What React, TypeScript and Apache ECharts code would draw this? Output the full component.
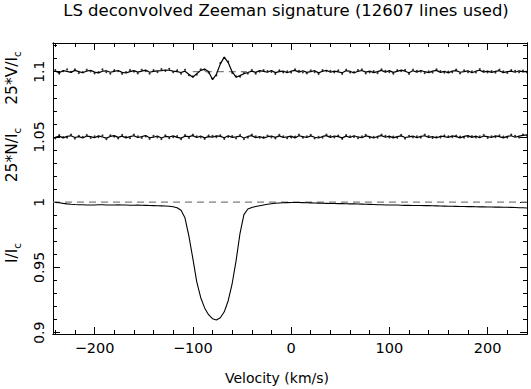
import { useEffect, useRef } from "react";
import * as echarts from "echarts";

// Velocity grid (km/s)
const velocityStart = -240;
const velocityStep = 4;

// Stokes I profile, deviation from continuum (units of 1e-4)
const intensityDev = [
  -1, -4, -9, -13, -16, -18, -19, -20, -21, -21,
  -21, -20, -20, -21, -22, -21, -20, -21, -22, -23,
  -23, -22, -23, -24, -25, -26, -27, -28, -29, -31,
  -35, -43, -62, -120, -260, -430, -610, -730, -810, -862,
  -893, -903, -885, -840, -755, -625, -450, -240, -95, -52,
  -40, -33, -27, -21, -16, -12, -8, -6, -4, -3,
  -2, -2, -2, -3, -4, -5, -6, -7, -8, -9,
  -10, -10, -11, -11, -12, -13, -13, -14, -15, -16,
  -17, -18, -19, -20, -21, -21, -22, -22, -23, -24,
  -24, -25, -25, -25, -26, -26, -27, -28, -29, -30,
  -31, -31, -32, -33, -33, -34, -34, -35, -36, -36,
  -37, -37, -38, -38, -39, -39, -40, -41, -42, -43,
  -44,
];

// Null profile 25*N/Ic, deviation from 1.05 (units of 1e-4)
const nullDev = [
  -3, 6, -7, 4, 9, -4, 2, -8, 7, 3,
  -6, 8, 0, -9, 4, 10, -3, 6, -7, 2,
  9, -4, 3, 11, -6, -2, 7, -8, 4, 0,
  8, -3, -9, 6, 2, 10, -4, 7, -7, 3,
  -2, 8, 4, -6, 9, -3, 0, 7, -8, 4,
  10, -6, 3, -9, 2, 7, -3, 8, -4, 0,
  6, -7, 9, 3, -4, 8, -2, -8, 4, 10,
  -3, 7, 2, -7, 6, -4, 9, 0, -6, 8,
  3, -8, 4, 10, -2, 6, -7, 3, 8, -4,
  0, 7, -6, 4, 9, -3, 2, -8, 6, 3,
  -4, 8, 2, -7, 4, 10, -3, 6, -6, 7,
  2, -4, 8, 3, -7, 4, 9, -2, 6, 12,
  16,
];
const nullDotsDev = [
  -11, 14, -1, -5, 17, -12, 9, 0, 15, -8,
  4, -1, 11, -17, 12, 3, -11, 15, 1, -9,
  17, 5, -8, 4, -14, 9, -3, -16, 12, -9,
  -1, 6, -17, 14, -8, 18, 5, -3, -15, 11,
  8, -1, 12, -14, 1, 6, -10, 15, -16, -5,
  18, 4, -6, -1, 10, -3, -11, 16, 5, -9,
  -4, 3, 17, -6, 5, 16, -10, 1, -5, 18,
  6, -3, 10, -15, 14, 5, 0, -9, 4, 16,
  -6, 1, -5, 18, 8, -4, 3, -6, 16, -12,
  9, -3, 4, -5, 17, 6, -8, 1, -4, 11,
  5, -1, 10, 3, -5, 1, 6, -4, 4, 15,
  -8, 5, -1, 11, 3, -5, 17, 8, -4, 18,
  10,
];

// Stokes V profile 25*V/Ic, deviation from 1.1 (units of 1e-4)
const stokesVDev = [
  4, -7, 8, 3, -5, 10, 1, -8, 5, 11,
  -3, -9, 4, 7, -4, 3, 9, -5, -10, 1,
  8, -3, 5, 12, -4, 3, 6, 9, 13, 11,
  5, 0, -6, 4, -20, -42, -15, 10, 20, 2,
  -60, -20, 60, 112, 70, 0, -42, -30, -15, -6,
  4, -5, 8, 3, -4, 9, -7, 1, 5, -8,
  4, 10, -3, 7, -5, 0, 8, -9, 3, 11,
  -4, 5, -1, -8, 7, 4, -10, 3, 9, -3,
  5, -7, 1, 10, -4, 8, -5, 3, 12, 4,
  -8, 7, -3, 9, 0, -7, 4, 10, -5, 3,
  -9, 5, 8, -4, 1, 7, -8, 4, 11, -3,
  5, -5, 3, 8, -7, 1, 4, -4, 7, -1,
  3,
];
const stokesVDotsDev = [
  12, -15, 5, 18, -2, 17, -10, -4, 15, 3,
  -12, -4, 17, -3, -15, 11, 5, -16, -3, 13,
  1, -13, 15, 5, -15, 12, -3, 19, 7, 21,
  -4, 11, -15, 15, -27, -36, -23, 17, 15, -7,
  -54, -28, 66, 106, 78, -9, -36, -38, -9, -14,
  13, -15, 1, 12, 5, -1, -16, 10, -5, 3,
  -6, 18, 7, -5, -13, 10, -3, -17, 12, 4,
  6, -5, 10, -17, 15, -6, -3, 12, 18, -12,
  -5, 4, -10, 17, 6, -3, -15, 11, 5, 13,
  -16, 15, 6, 1, -10, 3, -6, 18, 5, -7,
  1, -4, 16, -13, 10, -4, 3, -6, 19, 7,
  -5, 4, -7, 16, 3, -9, 12, 6, -4, 9,
  -6,
];

const intensityLevel = 1.0;
const nullLevel = 1.05;
const stokesVLevel = 1.1;
const devUnit = 1e-4;

// Reference (dashed) lines
const vRefRange = [-100, -45];

// Axes
const xMin = -242.3;
const xMax = 240.1;
const yMin = 0.899;
const yMax = 1.122;
const xTickMajor = [-200, -100, 0, 100, 200];
const xTickMinor = [-240, -220, -180, -160, -140, -120, -80, -60, -40, -20, 20, 40, 60, 80, 120, 140, 160, 180, 220, 240];
const yTickMajor = [0.9, 0.95, 1, 1.05, 1.1];
const yTickMinor = [0.91, 0.92, 0.93, 0.94, 0.96, 0.97, 0.98, 0.99, 1.01, 1.02, 1.03, 1.04, 1.06, 1.07, 1.08, 1.09, 1.11, 1.12];

const FONT = "DejaVu Sans";

function toPairs(devs: number[], level: number) {
  return devs.map((d, i) => [velocityStart + i * velocityStep, level + d * devUnit]);
}

function xAxisDef(position: string, ticks: number[], len: number, labels: boolean) {
  return {
    type: "value",
    position,
    min: xMin,
    max: xMax,
    axisLine: { show: true, onZero: false, lineStyle: { color: "#000", width: 1 } },
    splitLine: { show: false },
    axisTick: { show: true, inside: true, length: len, customValues: ticks, lineStyle: { color: "#000", width: 1 } },
    axisLabel: labels
      ? {
          show: true,
          customValues: xTickMajor,
          color: "#000",
          fontFamily: FONT,
          fontSize: 14.5,
          margin: 6,
          formatter: (v: number) => (v < 0 ? "\u2212" + Math.abs(v) : String(v)),
        }
      : { show: false },
  };
}

function yAxisDef(position: string, ticks: number[], len: number, labels: boolean) {
  return {
    type: "value",
    position,
    min: yMin,
    max: yMax,
    axisLine: { show: true, onZero: false, lineStyle: { color: "#000", width: 1 } },
    splitLine: { show: false },
    axisTick: { show: true, inside: true, length: len, customValues: ticks, lineStyle: { color: "#000", width: 1 } },
    axisLabel: labels
      ? {
          show: true,
          customValues: yTickMajor,
          rotate: 90,
          color: "#000",
          fontFamily: FONT,
          fontSize: 14,
          margin: 7,
          formatter: (v: number) => String(+v.toFixed(2)),
        }
      : { show: false },
  };
}

function sideLabel(main: string, y: number) {
  return {
    type: "text",
    x: 12,
    y,
    rotation: Math.PI / 2,
    style: {
      text: `{a|${main}}{b|c}`,
      align: "center",
      verticalAlign: "middle",
      fill: "#000",
      rich: {
        a: { fontSize: 15.5, fontFamily: FONT, fill: "#000" },
        b: { fontSize: 10.5, fontFamily: FONT, fill: "#000", padding: [10, 0, 0, 0], verticalAlign: "bottom" },
      },
    },
  };
}

export default function App() {
  const ref = useRef<HTMLDivElement>(null);
  useEffect(() => {
    document.body.style.margin = "0";
    if (!ref.current) return;
    const chart = echarts.init(ref.current, undefined, { renderer: "svg" });
    const lineStyle = { color: "#000", width: 1.2 };
    chart.setOption({
      animation: false,
      backgroundColor: "#fff",
      grid: { left: 53, right: 4, top: 43, bottom: 55, containLabel: false },
      xAxis: [
        xAxisDef("bottom", xTickMajor, 7, true),
        xAxisDef("bottom", xTickMinor, 4, false),
        xAxisDef("top", xTickMajor, 7, false),
        xAxisDef("top", xTickMinor, 4, false),
      ],
      yAxis: [
        yAxisDef("left", yTickMajor, 7, true),
        yAxisDef("left", yTickMinor, 4, false),
        yAxisDef("right", yTickMajor, 7, false),
        yAxisDef("right", yTickMinor, 4, false),
      ],
      graphic: [
        {
          type: "text",
          x: 286,
          y: 10,
          style: {
            text: "LS deconvolved Zeeman signature (12607 lines used)",
            fontFamily: FONT,
            fontSize: 16.5,
            fill: "#000",
            align: "center",
            verticalAlign: "middle",
          },
        },
        {
          type: "text",
          x: 277,
          y: 378,
          style: {
            text: "Velocity (km/s)",
            fontFamily: FONT,
            fontSize: 14,
            fill: "#000",
            align: "center",
            verticalAlign: "middle",
          },
        },
        sideLabel("25*V/I", 78),
        sideLabel("25*N/I", 155),
        sideLabel("I/I", 253),
      ],
      series: [
        {
          type: "line",
          data: [
            [xMin, intensityLevel],
            [xMax, intensityLevel],
          ],
          showSymbol: false,
          lineStyle: { color: "#7f7f7f", width: 1.2, type: [7, 5] },
          silent: true,
        },
        {
          type: "line",
          data: vRefRange.map((v) => [v, stokesVLevel]),
          showSymbol: false,
          lineStyle: { color: "#7f7f7f", width: 1.2, type: [7, 5] },
          silent: true,
        },
        {
          type: "line",
          data: toPairs(intensityDev, intensityLevel),
          showSymbol: false,
          lineStyle: { color: "#000", width: 1.1 },
        },
        {
          type: "line",
          data: toPairs(nullDev, nullLevel),
          showSymbol: false,
          lineStyle,
        },
        {
          type: "scatter",
          data: toPairs(nullDotsDev, nullLevel),
          symbol: "circle",
          symbolSize: 2,
          itemStyle: { color: "#000" },
        },
        {
          type: "line",
          data: toPairs(stokesVDev, stokesVLevel),
          showSymbol: false,
          lineStyle,
        },
        {
          type: "scatter",
          data: toPairs(stokesVDotsDev, stokesVLevel),
          symbol: "circle",
          symbolSize: 2,
          itemStyle: { color: "#000" },
        },
      ],
    });
    return () => chart.dispose();
  }, []);
  return <div ref={ref} style={{ width: 531, height: 389 }} />;
}
